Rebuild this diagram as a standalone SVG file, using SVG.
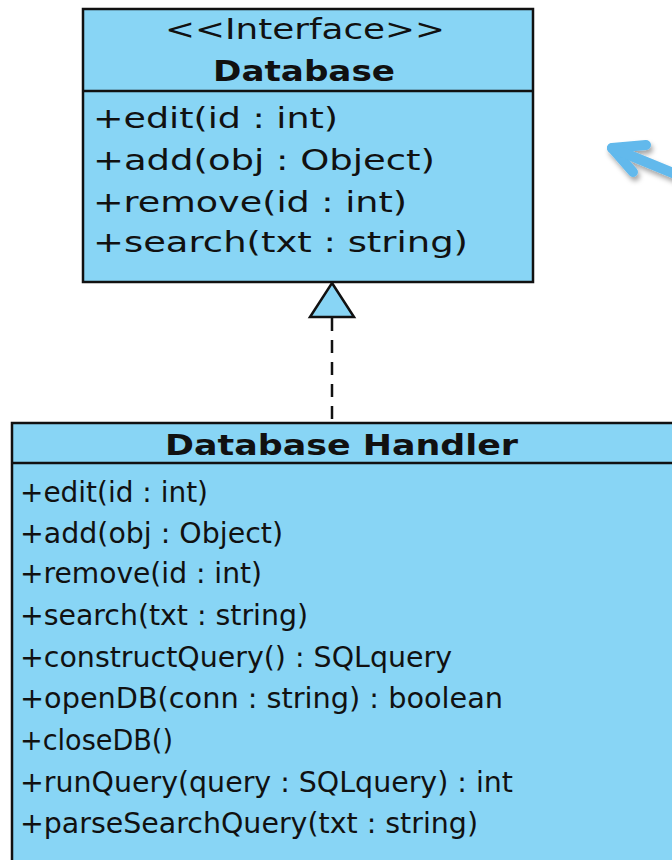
<svg xmlns="http://www.w3.org/2000/svg" width="672" height="860" viewBox="0 0 672 860">
  <style>
    .box { fill: #88d5f5; stroke: #111; stroke-width: 2.5; }
    .rule { stroke: #111; stroke-width: 2.5; }
    .txt { font-family: "DejaVu Sans", "Liberation Sans", sans-serif; font-size: 28px; fill: #111; }
    .bold { font-weight: bold; }
    .mid { text-anchor: middle; }
  </style>
  <defs>
    <filter id="shadow" x="-20%" y="-20%" width="140%" height="160%">
      <feDropShadow dx="2" dy="4" stdDeviation="2.5" flood-color="#000" flood-opacity="0.35"/>
    </filter>
  </defs>
  <rect width="672" height="860" fill="#fff"/>

  <!-- interface: Database -->
  <g id="database">
    <rect class="box" x="83" y="9" width="450" height="273"/>
    <line class="rule" x1="83" y1="91" x2="533" y2="91"/>
    <text class="txt mid" x="305" y="39" textLength="280" lengthAdjust="spacingAndGlyphs">&lt;&lt;Interface&gt;&gt;</text>
    <text class="txt bold mid" x="304" y="81" textLength="182" lengthAdjust="spacingAndGlyphs">Database</text>
    <text class="txt" x="93" y="128" textLength="245" lengthAdjust="spacingAndGlyphs">+edit(id : int)</text>
    <text class="txt" x="93" y="170" textLength="342" lengthAdjust="spacingAndGlyphs">+add(obj : Object)</text>
    <text class="txt" x="93" y="212" textLength="314" lengthAdjust="spacingAndGlyphs">+remove(id : int)</text>
    <text class="txt" x="93" y="252" textLength="375" lengthAdjust="spacingAndGlyphs">+search(txt : string)</text>
  </g>

  <!-- class: Database Handler -->
  <g id="database-handler">
    <rect class="box" x="12" y="423" width="680" height="460"/>
    <line class="rule" x1="12" y1="463" x2="672" y2="463"/>
    <text class="txt bold mid" x="341.5" y="455" textLength="353" lengthAdjust="spacingAndGlyphs">Database Handler</text>
    <text class="txt" x="20" y="502" textLength="188" lengthAdjust="spacingAndGlyphs">+edit(id : int)</text>
    <text class="txt" x="20" y="543" textLength="263" lengthAdjust="spacingAndGlyphs">+add(obj : Object)</text>
    <text class="txt" x="20" y="583" textLength="242" lengthAdjust="spacingAndGlyphs">+remove(id : int)</text>
    <text class="txt" x="20" y="625" textLength="288" lengthAdjust="spacingAndGlyphs">+search(txt : string)</text>
    <text class="txt" x="20" y="667" textLength="432" lengthAdjust="spacingAndGlyphs">+constructQuery() : SQLquery</text>
    <text class="txt" x="20" y="708" textLength="483" lengthAdjust="spacingAndGlyphs">+openDB(conn : string) : boolean</text>
    <text class="txt" x="20" y="750" textLength="153" lengthAdjust="spacingAndGlyphs">+closeDB()</text>
    <text class="txt" x="20" y="792" textLength="493" lengthAdjust="spacingAndGlyphs">+runQuery(query : SQLquery) : int</text>
    <text class="txt" x="20" y="833" textLength="458" lengthAdjust="spacingAndGlyphs">+parseSearchQuery(txt : string)</text>
  </g>

  <!-- connectors -->
  <g id="connectors">
    <!-- realization: Database Handler implements Database -->
    <line x1="332" y1="318" x2="332" y2="423" stroke="#111" stroke-width="2.5" stroke-dasharray="13 9"/>
    <polygon points="332,283 354,317 310,317" fill="#88d5f5" stroke="#111" stroke-width="2.5" stroke-linejoin="miter"/>
    <!-- pointer arrow -->
    <g filter="url(#shadow)" fill="none" stroke="#62b9ec" stroke-width="10" stroke-linecap="round" stroke-linejoin="round">
      <path d="M646,145 L612,148 L633,172"/>
      <path d="M612,148 L690,180"/>
    </g>
  </g>
</svg>
